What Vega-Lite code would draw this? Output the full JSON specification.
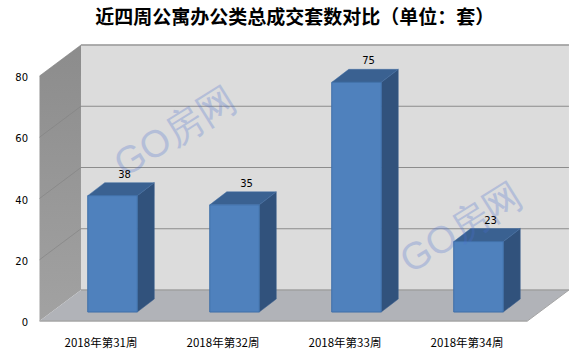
{
"$schema":"https://vega.github.io/schema/vega-lite/v6.json",
"width":542.5,"height":277,
"autosize":{"type":"none"},
"padding":{"left":39.5,"top":44,"right":0,"bottom":34},
"background":"white",
"title":{"text":"近四周公寓办公类总成交套数对比（单位：套）","anchor":"middle","frame":"group","dx":-16,"offset":16,"font":"Noto Sans CJK SC","fontSize":19,"fontWeight":"bold","color":"#000000"},
"config":{"view":{"stroke":null}},
"datasets":{
"bars":[
{"week":"2018年第31周","slot":1,"value":38},
{"week":"2018年第32周","slot":2,"value":35},
{"week":"2018年第33周","slot":3,"value":75},
{"week":"2018年第34周","slot":4,"value":23}],
"depth":[{"d":0},{"d":1}],
"grid":[{"tick":20},{"tick":40},{"tick":60},{"tick":80}]
},
"encoding":{
"x":{"type":"quantitative","title":null,"scale":{"domain":[0.5,4.947],"nice":false,"zero":false},
"axis":{"values":[1,2,3,4],"labelExpr":"'2018年第'+(datum.value+30)+'周'","domain":false,"ticks":false,"grid":false,"labelPadding":16,"labelFont":"Noto Sans CJK SC","labelFontSize":11.5,"labelColor":"#000000","title":null}},
"y":{"type":"quantitative","title":null,"scale":{"domain":[0,90.449],"nice":false,"zero":false},
"axis":{"values":[0,20,40,60,80],"domain":false,"ticks":false,"grid":false,"labelPadding":12,"labelOffset":1.5,"labelFont":"DejaVu Sans","labelFontSize":10,"labelColor":"#000000","title":null}}
},
"layer":[
{"data":{"name":"depth"},"transform":[{"filter":"datum.d==0"}],
"mark":{"type":"rect","fill":"#DCDCDC"},
"encoding":{
"x":{"datum":0.84},
"x2":{"datum":4.84},
"y":{"datum":10.12},
"y2":{"datum":90.12}}},
{"data":{"name":"grid"},"transform":[{"calculate":"datum.tick+10.12","as":"yb"}],
"mark":{"type":"rule","stroke":"#8c8c8c","strokeWidth":1},
"encoding":{"x":{"datum":0.84},"x2":{"datum":4.84},"y":{"field":"yb"}}},
{"data":{"name":"depth"},"transform":[{"calculate":"0.5+0.34*datum.d","as":"xs"},{"calculate":"10.12*datum.d","as":"y0"},{"calculate":"80+10.12*datum.d","as":"y1"}],
"mark":{"type":"area","fill":{"x1":0,"y1":0,"x2":0,"y2":1,"gradient":"linear","stops":[{"offset":0,"color":"#8c8c8c"},{"offset":1,"color":"#a2a2a2"}]}},
"encoding":{"x":{"field":"xs"},"y":{"field":"y1"},"y2":{"field":"y0"}}},
{"data":{"name":"grid"},"transform":[{"calculate":"datum.tick+10.12","as":"yb"}],
"mark":{"type":"rule","stroke":"#808080","strokeWidth":1,"opacity":0.6},
"encoding":{"x":{"datum":0.5},"x2":{"datum":0.84},"y":{"field":"tick"},"y2":{"field":"yb"}}},
{"data":{"name":"depth"},"transform":[{"calculate":"0.5+0.34*datum.d","as":"xa"},{"calculate":"4.5+0.34*datum.d","as":"xb"},{"calculate":"10.12*datum.d","as":"yf"}],
"mark":{"type":"area","orient":"horizontal","fill":"#B1B3B8"},
"encoding":{"y":{"field":"yf"},"x":{"field":"xa"},"x2":{"field":"xb"}}},
{"data":{"name":"depth"},"transform":[{"filter":"datum.d==0"}],
"mark":{"type":"rule","stroke":"#a0a0a0","strokeWidth":1.5},
"encoding":{"x":{"datum":0.84},"x2":{"datum":4.84},"y":{"datum":10.12}}},
{"data":{"name":"depth"},"transform":[{"filter":"datum.d==0"}],
"mark":{"type":"rule","stroke":"#a6a6a6","strokeWidth":1.5},
"encoding":{"x":{"datum":0.84},"x2":{"datum":4.84},"y":{"datum":90.12}}},
{"data":{"name":"depth"},"transform":[{"filter":"datum.d==0"}],
"mark":{"type":"rule","stroke":"#a6a6a6","strokeWidth":1.5},
"encoding":{"x":{"datum":0.5},"x2":{"datum":4.5},"y":{"datum":0}}},
{"data":{"name":"depth"},"transform":[{"filter":"datum.d==0"}],
"mark":{"type":"rule","stroke":"#a6a6a6","strokeWidth":1},
"encoding":{"x":{"datum":4.5},"x2":{"datum":4.84},"y":{"datum":0},"y2":{"datum":10.12}}},
{"data":{"name":"bars"},"transform":[{"calculate":"[0,1]","as":"edge"},{"flatten":["edge"]},{"calculate":"datum.slot+0.3016+0.1393*datum.edge","as":"xs"},{"calculate":"datum.value+2.93+4.25*datum.edge","as":"yt"},{"calculate":"2.93+4.25*datum.edge","as":"yb"}],
"mark":{"type":"area","fill":"#31527C","stroke":"#3a5f8f","strokeWidth":0.5},
"encoding":{"x":{"field":"xs"},"y":{"field":"yt"},"y2":{"field":"yb"},"detail":{"field":"week"}}},
{"data":{"name":"bars"},"transform":[{"calculate":"[0,1]","as":"edge"},{"flatten":["edge"]},{"calculate":"datum.slot-0.1044+0.1393*datum.edge","as":"xl"},{"calculate":"datum.slot+0.3016+0.1393*datum.edge","as":"xr"},{"calculate":"datum.value+2.93+4.25*datum.edge","as":"yt"}],
"mark":{"type":"area","orient":"horizontal","fill":"#3A6191","stroke":"#426fa5","strokeWidth":0.5},
"encoding":{"y":{"field":"yt"},"x":{"field":"xl"},"x2":{"field":"xr"},"detail":{"field":"week"}}},
{"data":{"name":"bars"},"transform":[{"calculate":"datum.slot-0.1044","as":"xl"},{"calculate":"datum.slot+0.3016","as":"xr"},{"calculate":"datum.value+2.93","as":"yt"}],
"mark":{"type":"rect","fill":"#4F81BD","stroke":"#3F6FA8","strokeWidth":1},
"encoding":{"x":{"field":"xl"},"x2":{"field":"xr"},"y":{"field":"yt"},"y2":{"datum":2.93}}},
{"data":{"values":[{"mark":"GO房网"}]},
"mark":{"type":"text","font":"Liberation Sans","fontSize":38,"angle":-32,"fill":"#4a6fd0","opacity":0.27,"align":"center","baseline":"middle"},
"encoding":{"x":{"datum":1.619},"y":{"datum":61.4},"text":{"field":"mark"}}},
{"data":{"values":[{"mark":"GO房网"}]},
"mark":{"type":"text","font":"Liberation Sans","fontSize":38,"angle":-32,"fill":"#4a6fd0","opacity":0.27,"align":"center","baseline":"middle"},
"encoding":{"x":{"datum":3.963},"y":{"datum":30},"text":{"field":"mark"}}},
{"data":{"name":"bars"},"transform":[{"calculate":"datum.slot+0.197","as":"xc"},{"calculate":"datum.value+7.18","as":"yt"}],
"mark":{"type":"text","font":"DejaVu Sans","fontSize":10,"fill":"#000000","baseline":"bottom","dy":-3},
"encoding":{"x":{"field":"xc"},"y":{"field":"yt"},"text":{"field":"value","type":"quantitative"}}}
]
}
